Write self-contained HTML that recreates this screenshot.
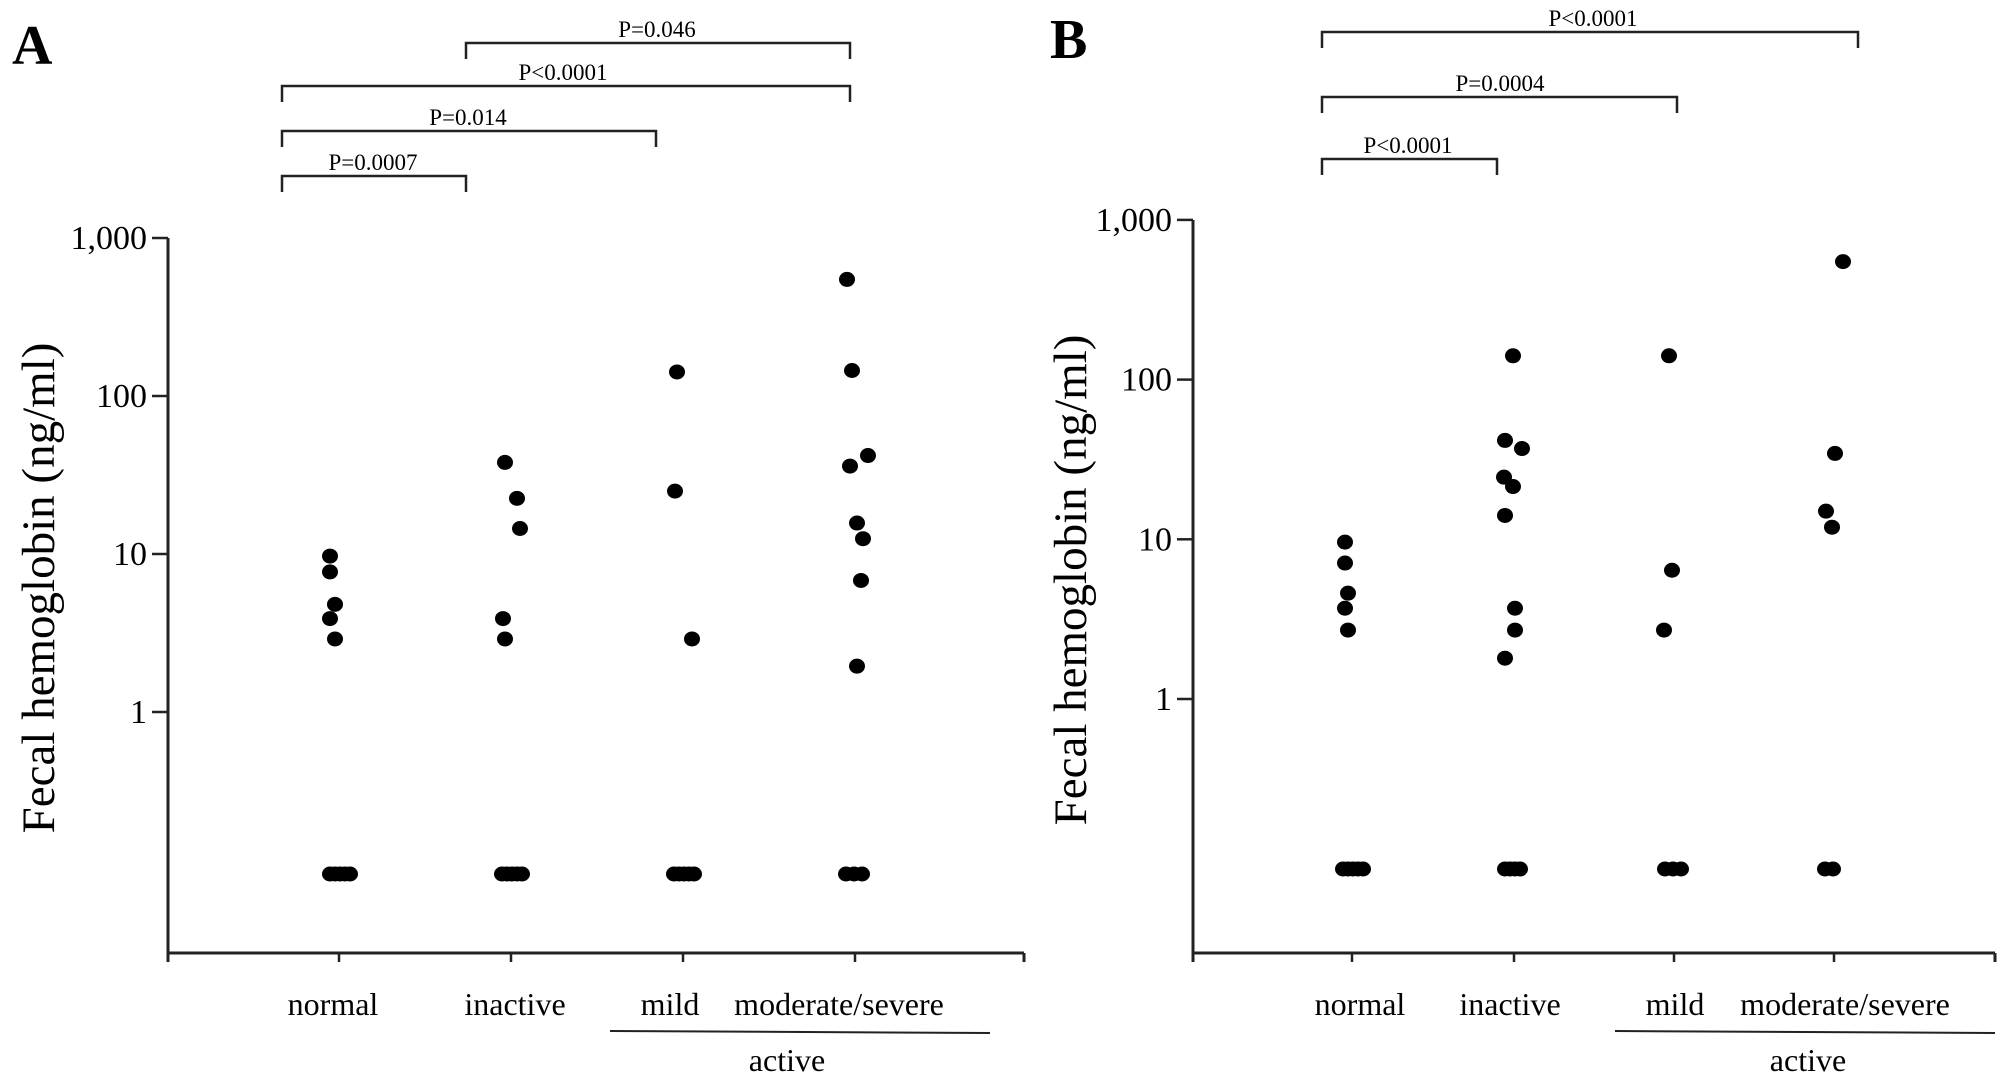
<!DOCTYPE html>
<html><head><meta charset="utf-8">
<style>
html,body{margin:0;padding:0;background:#fff;}
svg{display:block;font-family:"Liberation Serif",serif;}
</style></head>
<body>
<svg id="fig" width="2008" height="1085" viewBox="0 0 2008 1085" xmlns="http://www.w3.org/2000/svg">
<g id="panelA"></g>
<g id="panelB"></g>
</svg>
<script>
// ---- data ----
const categories = ["normal", "inactive", "mild", "moderate/severe"];
const yTickValues = [1000, 100, 10, 1];
const yTickLabels = ["1,000", "100", "10", "1"];
// Panel A values (ng/ml) per category
const aNormal = [9.7, 7.7, 4.8, 3.9, 2.9];
const aInactive = [38, 22.5, 14.5, 3.9, 2.9];
const aMild = [142, 25, 2.9];
const aModSev = [547, 145, 36, 42, 15.7, 12.5, 6.8, 1.95];
const aZeroCounts = [5, 5, 5, 3];
// Panel B values
const bNormal = [9.6, 7.1, 4.6, 3.7, 2.7];
const bInactive = [141, 41.6, 37, 24.5, 21.4, 14.1, 3.7, 2.7, 1.8];
const bMild = [141, 6.4, 2.7];
const bModSev = [548, 34.5, 15, 11.9];
const bZeroCounts = [5, 4, 3, 2];
// comparison labels
const aPLabels = ["P=0.0007", "P=0.014", "P<0.0001", "P=0.046"];
const aPPairs = [[0,1],[0,2],[0,3],[1,3]];
const bPLabels = ["P<0.0001", "P=0.0004", "P<0.0001"];
const bPPairs = [[0,1],[0,2],[0,3]];

// ---- drawing ----
const NS = "http://www.w3.org/2000/svg";
function mk(parent, tag, attrs, text){
  const e = document.createElementNS(NS, tag);
  for (const k in attrs) e.setAttribute(k, attrs[k]);
  if (text !== undefined) e.textContent = text;
  parent.appendChild(e);
  return e;
}

function drawPanel(g, cfg){
  const y = v => cfg.y1 - Math.log10(v) * cfg.dec;
  const x = i => cfg.cx[i];
  const L = mk(g, "text", {x:cfg.letterX, y:cfg.letterY, "font-size":56, "font-weight":"bold"}, cfg.letter);
  
  
  const ax = mk(g, "path", {d:`M${cfg.axX},${cfg.axTop} V${cfg.axBot} H${cfg.axRight}`, fill:"none", stroke:"#222", "stroke-width":3});
  
  
  mk(g, "line", {x1:cfg.axRight, y1:cfg.axBot, x2:cfg.axRight, y2:cfg.axBot+9, stroke:"#222","stroke-width":3});
  mk(g, "line", {x1:cfg.axX, y1:cfg.axBot, x2:cfg.axX, y2:cfg.axBot+9, stroke:"#222","stroke-width":3});
  yTickValues.forEach((v,i)=>{
    mk(g, "line", {x1:cfg.axX-16, y1:y(v), x2:cfg.axX, y2:y(v), stroke:"#222", "stroke-width":2.5});
    const t = mk(g, "text", {x:cfg.axX-21, y:y(v)+11, "font-size":34, "text-anchor":"end"}, yTickLabels[i]);
    
    
  });
  const yl = mk(g, "text", {x:0, y:0, "font-size":47, "text-anchor":"middle", transform:`translate(${cfg.ylX},${cfg.ylY}) rotate(-90)`}, "Fecal hemoglobin (ng/ml)");
  
  
  categories.forEach((c,i)=>{
    mk(g, "line", {x1:x(i), y1:cfg.axBot, x2:x(i), y2:cfg.axBot+9, stroke:"#222","stroke-width":2.5});
    const t = mk(g, "text", {x:cfg.labX[i], y:1015, "font-size":32, "text-anchor":"middle"}, c);
    
    
  });
  const ul = mk(g, "line", {x1:cfg.ulX1, y1:1031, x2:cfg.ulX2, y2:1033, stroke:"#222", "stroke-width":2});
  
  
  const at = mk(g, "text", {x:cfg.activeX, y:1071, "font-size":32, "text-anchor":"middle"}, "active");
  
  
  cfg.series.forEach((vals,i)=>{
    vals.forEach((v,j)=>{
      const d = mk(g, "ellipse", {cx:x(i)+cfg.jit[i][j], cy:y(v), rx:8, ry:7.5, fill:"#000"});
      
      
    });
    const n = cfg.zeros[i];
    for (let k=0;k<n;k++){
      const d = mk(g, "ellipse", {cx:x(i)-9+k*(n>3?5:8), cy:cfg.zeroY, rx:8, ry:7.5, fill:"#000"});
      
      
    }
  });
  cfg.pairs.forEach((p,i)=>{
    const by = cfg.brY[i], x1 = cfg.brX[p[0]], x2 = cfg.brX[p[1]];
    const b = mk(g, "path", {d:`M${x1},${by+16} V${by} H${x2} V${by+16}`, fill:"none", stroke:"#222", "stroke-width":2.5});
    
    
    const t = mk(g, "text", {x:cfg.pX[i], y:by-6, "font-size":23, "text-anchor":"middle"}, cfg.pLabels[i]);
    
    
  });
}

drawPanel(document.getElementById("panelA"), {
  letter:"A", letterX:12, letterY:64,
  y1:712, dec:158, axX:168, axTop:238, axBot:953, axRight:1024,
  cx:[339,511,683,855], labX:[333,515,670,839],
  ylX:54, ylY:588, ulX1:610, ulX2:990, activeX:787, zeroY:874,
  series:[aNormal,aInactive,aMild,aModSev], zeros:aZeroCounts,
  jit:[[-9,-9,-4,-9,-4],[-6,6,9,-8,-6],[-6,-8,9],[-8,-3,-5,13,2,8,6,2]],
  pairs:aPPairs, pLabels:aPLabels, brX:[282,466,656,850],
  brY:[176,131,86,43], pX:[373,468,563,657]
});
drawPanel(document.getElementById("panelB"), {
  letter:"B", letterX:1050, letterY:58,
  y1:699, dec:159.7, axX:1193, axTop:220, axBot:953, axRight:1995,
  cx:[1352,1514,1674,1834], labX:[1360,1510,1675,1845],
  ylX:1086, ylY:580, ulX1:1615, ulX2:1995, activeX:1808, zeroY:869,
  series:[bNormal,bInactive,bMild,bModSev], zeros:bZeroCounts,
  jit:[[-7,-7,-4,-7,-4],[-1,-9,8,-10,-1,-9,1,1,-9],[-5,-2,-10],[9,1,-8,-2]],
  pairs:bPPairs, pLabels:bPLabels, brX:[1322,1497,1677,1858],
  brY:[159,97,32], pX:[1408,1500,1593]
});
</script>
</body></html>
